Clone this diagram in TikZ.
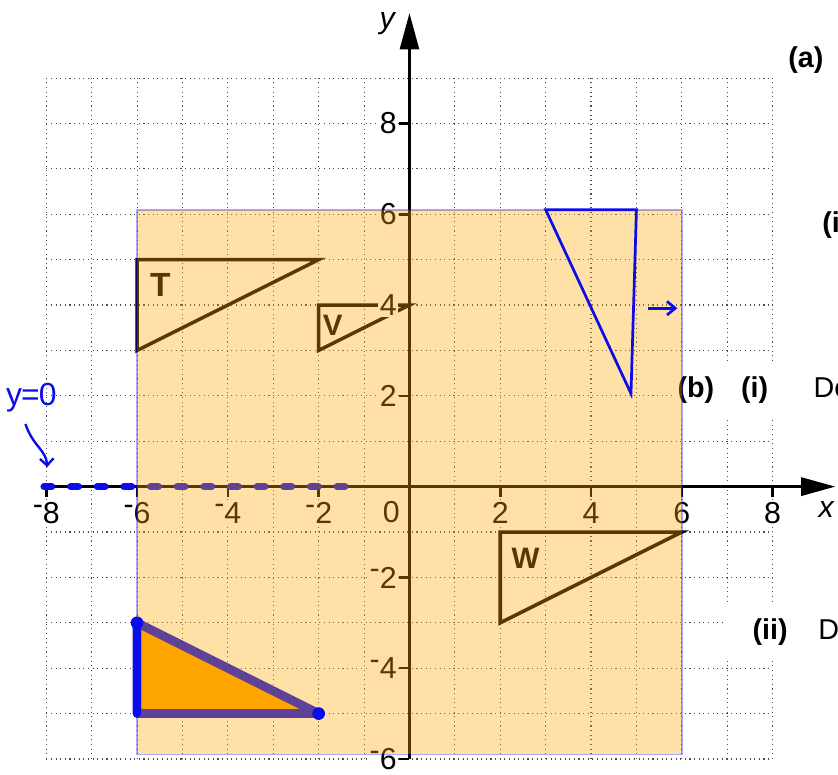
\documentclass[tikz,border=0pt]{standalone}
\usepackage{fontspec}
\setmainfont{Liberation Sans}
\usepackage{tikz}
\usetikzlibrary{arrows.meta}
\definecolor{penBlue}{RGB}{12,12,235}
\definecolor{paperOrange}{RGB}{255,165,0}
\newcommand{\tikzPicScale}{1}
\newcommand\overlayOpacity{0.35}
\newcommand\tickLen{0.22}
\newcommand\negsign{\raisebox{0.3em}{-}}
\newcommand\lblFont{\fontsize{19}{22}\selectfont}
\newcommand\txtFont{\fontsize{18}{21}\selectfont}

\begin{document}
\begin{tikzpicture}[scale=\tikzPicScale,
        gridLine/.style={black!70, line width=0.7pt, dash pattern=on 0.7pt off 2.2pt},
        axisLine/.style={black, line width=1.6pt},
        shapeLine/.style={black, line width=2.2pt, line join=miter},
        tickLbl/.style={fill=white, inner sep=1pt, font=\lblFont},
        textLbl/.style={fill=white, anchor=west, font=\txtFont, inner ysep=0.35cm, inner xsep=0.05cm},
        penLine/.style={penBlue, line width=1.7pt}]

    \useasboundingbox (-9.02,-6.35) rectangle (9.44,10.72);

    \draw[gridLine] (-8,-6) grid (8,9);

    \draw[shapeLine] (-6,3) -- (-6,5) -- (-2,5) -- cycle;
    \node[font=\fontsize{21}{24}\selectfont\bfseries] (labT) at (-5.49,4.45) {T};
    \draw[shapeLine] (-2,3) -- (-2,4) -- (0,4) -- cycle;
    \node[font=\fontsize{18.5}{21}\selectfont\bfseries] (labV) at (-1.69,3.56) {V};
    \draw[shapeLine] (2,-3) -- (2,-1) -- (6,-1) -- cycle;
    \node[font=\fontsize{18.5}{21}\selectfont\bfseries] (labW) at (2.56,-1.57) {W};

    \node[textLbl] (partA) at (8.29,9.4) {\textbf{(a)}};
    \node[textLbl] (partAi) at (9.04,5.76) {\textbf{(i}};
    \node[textLbl] (partB) at (5.85,2.13) {\textbf{(b)}\hspace{0.59cm}\textbf{(i)}\hspace{1.0cm}De};
    \node[textLbl, inner xsep=0.6cm] (partBii) at (6.95,-3.2) {\textbf{(ii)}\hspace{0.68cm}D};

    \foreach \y/\t in {-6/\negsign6, -4/\negsign4, -2/\negsign2, 2/2, 4/4, 6/6, 8/8}{
        \draw[axisLine] (-\tickLen,\y) -- (0,\y);
        \node[tickLbl, left] (ylbl\y) at (-0.24,\y) {\t};
    }
    \foreach \x/\t in {-8/\negsign8, -6/\negsign6, -4/\negsign4, -2/\negsign2, 2/2, 4/4, 6/6, 8/8}{
        \draw[axisLine] (\x,0) -- (\x,-\tickLen);
        \node[tickLbl, below] (xlbl\x) at (\x,-0.3) {\t};
    }
    \node[tickLbl] (lblO) at (-0.4,-0.57) {0};

    \draw[axisLine, -{Triangle[length=0.75cm, width=0.4cm]}] (-8.1,0) -- (9.38,0);
    \draw[axisLine, -{Triangle[length=0.8cm, width=0.42cm]}] (0,-6) -- (0,10.43);
    \node[font=\lblFont\itshape] (axisX) at (9.18,-0.51) {x};
    \node[font=\lblFont\itshape] (axisY) at (-0.49,10.19) {y};

    \draw[penBlue, line width=4.5pt, line cap=round, dash pattern=on 0.17cm off 0.417cm] (-8.05,0) -- (-1.36,0);
    \filldraw[fill=paperOrange, draw=penBlue, line width=5.5pt, line join=round] (-6,-3) -- (-6,-5) -- (-2,-5) -- cycle;

    \filldraw[fill=paperOrange, draw=penBlue, line width=1pt, opacity=\overlayOpacity] (-6,-5.9) rectangle (6,6.1);

    \draw[penBlue, line width=5pt, line cap=round] (-6,-3) -- (-6,-5);
    \fill[penBlue] (-6,-3) circle (0.14) (-2,-5) circle (0.14) (-6,-5) circle (0.08);

    \draw[penLine, line join=miter] (3,6.1) -- (5,6.1) -- (4.88,2.05) -- cycle;
    \coordinate (moveFrom) at (5.26,3.93);
    \coordinate (moveTo) at (5.9,3.93);
    \draw[penLine, -{Straight Barb[length=0.18cm, width=0.3cm]}] (moveFrom) -- (moveTo);

    \node[text=penBlue, font=\fontsize{20}{24}\selectfont, inner sep=0pt] (noteY) at (-8.33,1.95) {y\kern-0.03em=\kern-0.03em0};
    \coordinate (noteFrom) at (-8.46,1.38);
    \coordinate (noteTo) at (-7.98,0.43);
    \draw[penBlue, line width=1.5pt, -{Straight Barb[length=0.15cm, width=0.3cm]}] (noteFrom) .. controls (-8.3,0.9) and (-8.0,0.8) .. (noteTo);

\end{tikzpicture}
\end{document}
